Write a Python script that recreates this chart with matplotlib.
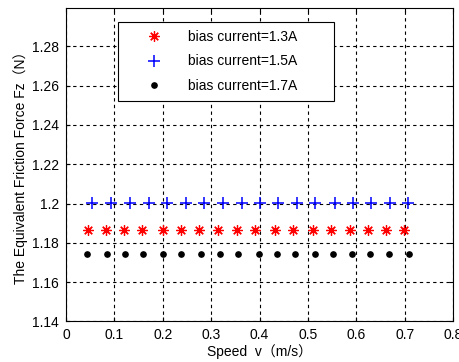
import matplotlib
matplotlib.use("Agg")
import matplotlib.pyplot as plt

# Data
v_13 = [0.045, 0.082, 0.120, 0.158, 0.200, 0.2375, 0.274, 0.315, 0.354, 0.391,
        0.431, 0.469, 0.510, 0.547, 0.5865, 0.625, 0.6625, 0.698]
f_13 = [1.1867] * 18
v_15 = [0.0545, 0.0925, 0.1325, 0.171, 0.2085, 0.248, 0.2857, 0.3244, 0.363, 0.400,
        0.439, 0.477, 0.514, 0.5555, 0.593, 0.630, 0.669, 0.7066]
f_15 = [1.2003] * 18
v_17 = [0.044, 0.0843, 0.1228, 0.160, 0.2008, 0.2387, 0.2795, 0.3174, 0.3547, 0.398,
        0.4354, 0.4727, 0.514, 0.5528, 0.5915, 0.629, 0.6667, 0.7087]
f_17 = [1.1741] * 18

labels = ["bias current=1.3A", "bias current=1.5A", "bias current=1.7A"]
xticks = [0, 0.1, 0.2, 0.3, 0.4, 0.5, 0.6, 0.7, 0.8]
xticklabels = ["0", "0.1", "0.2", "0.3", "0.4", "0.5", "0.6", "0.7", "0.8"]
yticks = [1.14, 1.16, 1.18, 1.2, 1.22, 1.24, 1.26, 1.28]
yticklabels = ["1.14", "1.16", "1.18", "1.2", "1.22", "1.24", "1.26", "1.28"]

plt.rcParams['font.family'] = ['Liberation Sans', 'Noto Sans CJK SC', 'DejaVu Sans']
plt.rcParams['font.size'] = 10

fig = plt.figure(figsize=(4.6, 3.62), dpi=100)
ax = fig.add_axes([0.1435, 0.112, 0.8413, 0.866])

asterisk = (8, 2, 0)
ax.plot(v_13, f_13, linestyle='none', marker=asterisk, color='red', markersize=7.5,
        markeredgewidth=0.9, label=labels[0], zorder=3)
ax.plot(v_15, f_15, linestyle='none', marker='+', color='blue', markersize=9,
        markeredgewidth=1.1, label=labels[1], zorder=3)
ax.plot(v_17, f_17, linestyle='none', marker='o', color='black', markersize=3.8,
        label=labels[2], zorder=3)

ax.set_xlim(0, 0.8)
ax.set_ylim(1.14, 1.2995)
ax.set_xticks(xticks)
ax.set_xticklabels(xticklabels)
ax.set_yticks(yticks)
ax.set_yticklabels(yticklabels)

ax.grid(True, color='black', linestyle=(0, (3, 3)), linewidth=0.8)
ax.tick_params(direction='in', length=3, top=True, right=True, width=0.8, pad=5)
for s in ax.spines.values():
    s.set_linewidth(0.8)

ax.set_xlabel("Speed  v（m/s）", labelpad=1)
ax.set_ylabel("The Equivalent Friction Force Fz（N）", labelpad=3)

leg = ax.legend(loc='upper left', bbox_to_anchor=(0.134, 0.956, 0.558, 0.0),
                mode='expand', borderaxespad=0, fancybox=False, frameon=True,
                edgecolor='black', framealpha=1, borderpad=0.58, labelspacing=0.76,
                handlelength=4.0, handletextpad=0.5, numpoints=1)
leg.get_frame().set_linewidth(0.8)

fig.savefig("out.png", dpi=100)
